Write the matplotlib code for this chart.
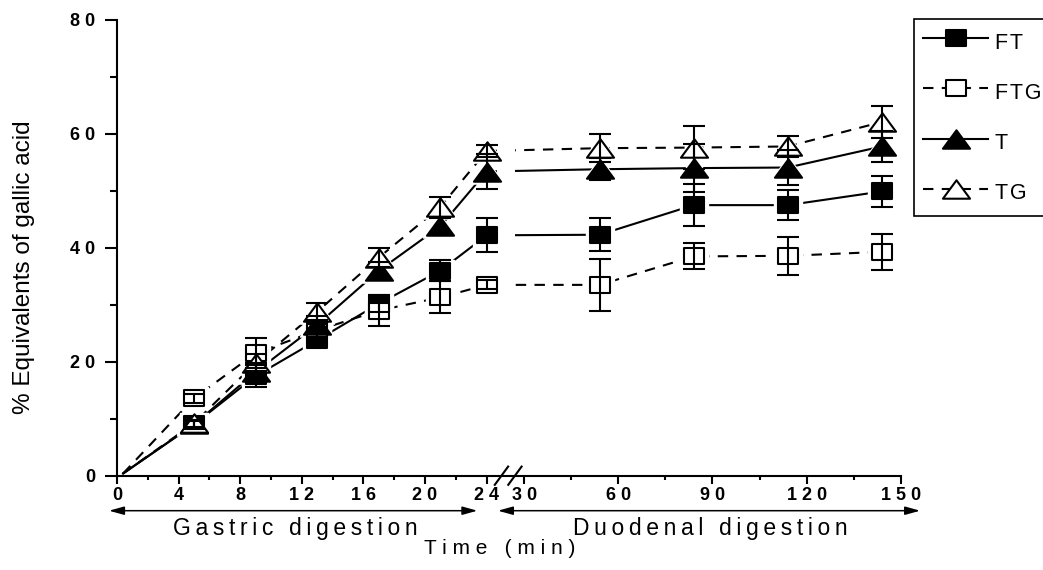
import numpy as np
import matplotlib
matplotlib.use('Agg')
import matplotlib.pyplot as plt
from matplotlib.path import Path
from matplotlib.lines import Line2D

plt.rcParams['font.family'] = ['Liberation Sans', 'DejaVu Sans']

# sampling times (min): gastric phase up to 24, duodenal phase afterwards
time_min = [0.4, 5, 9, 13, 17, 21, 24, 54, 84, 114, 144]

ft = [0.4, 9.0, 17.5, 23.8, 30.2, 36.0, 42.2, 42.3, 47.5, 47.5, 49.9]
ft_err = [0, 0.8, 2.0, 1.0, 1.5, 1.8, 3.0, 2.9, 3.7, 2.6, 2.7]
ftg = [0.4, 13.6, 21.5, 25.5, 29.0, 31.3, 33.5, 33.5, 38.5, 38.6, 39.3]
ftg_err = [0, 0.8, 2.6, 1.2, 2.7, 2.8, 0.8, 4.5, 2.3, 3.3, 3.2]
t_vals = [0.4, 9.0, 18.2, 26.5, 36.0, 43.8, 53.4, 53.8, 54.0, 54.1, 57.8]
t_err = [0, 0.6, 1.5, 1.5, 1.5, 1.5, 3.0, 1.9, 4.2, 3.0, 2.8]
tg = [0.4, 9.2, 19.8, 28.8, 38.3, 47.2, 57.0, 57.5, 57.6, 57.8, 62.1]
tg_err = [0, 0.6, 1.5, 1.5, 1.6, 1.8, 1.0, 2.5, 3.8, 1.9, 2.8]

labels = ['FT', 'FTG', 'T', 'TG']

x_major = [0, 4, 8, 12, 16, 20, 24, 30, 60, 90, 120, 150]
x_minor = [2, 6, 10, 14, 18, 22, 45, 75, 105, 135]
y_major = [0, 20, 40, 60, 80]
y_minor = [10, 30, 50, 70]

THIN = '\u2009'
HAIR = '\u200a'

# broken time axis: 24-30 squeezed into a short gap, duodenal part compressed
GAP = 2.44
SHRINK = 0.2037


def forward(t):
    t = np.asarray(t, dtype=float)
    return np.where(t <= 24, t,
                    np.where(t <= 30, 24 + (t - 24) * GAP / 6,
                             24 + GAP + (t - 30) * SHRINK))


def inverse(u):
    u = np.asarray(u, dtype=float)
    return np.where(u <= 24, u,
                    np.where(u <= 24 + GAP, 24 + (u - 24) * 6 / GAP,
                             30 + (u - 24 - GAP) / SHRINK))


def spaced(text, sep=THIN):
    return sep.join(text)


square = Path([(-0.5, -0.42), (0.5, -0.42), (0.5, 0.42), (-0.5, 0.42), (-0.5, -0.42)],
              [Path.MOVETO, Path.LINETO, Path.LINETO, Path.LINETO, Path.CLOSEPOLY])
triangle = Path([(0, 0.68), (-1, -0.68), (1, -0.68), (0, 0.68)],
                [Path.MOVETO, Path.LINETO, Path.LINETO, Path.CLOSEPOLY])

series = [
    (ft, ft_err, square, 14.5, True, False),
    (ftg, ftg_err, square, 14.5, False, True),
    (t_vals, t_err, triangle, 19.5, True, False),
    (tg, tg_err, triangle, 19.5, False, True),
]

fig = plt.figure(figsize=(10.43, 5.70), dpi=100)
ax = fig.add_axes([117 / 1043, 94.3 / 570, 783.7 / 1043, 455.7 / 570])
ax.set_xscale('function', functions=(forward, inverse))
ax.set_xlim(0, 150)
ax.set_ylim(0, 80)

handles = []
for vals, errs, mk, ms, filled, dashed in series:
    ls = (0, (5, 4)) if dashed else '-'
    face = 'black' if filled else 'white'
    ax.plot(time_min, vals, color='black', lw=1.5, ls=ls, zorder=2)
    ax.plot(time_min[1:], vals[1:], ls='none', marker=mk, ms=ms + 5,
            mfc='white', mec='white', zorder=3)
    ax.plot(time_min[1:], vals[1:], ls='none', marker=mk, ms=ms,
            mfc=face, mec='black', mew=1.5, zorder=4)
    ax.errorbar(time_min[1:], vals[1:], yerr=errs[1:], fmt='none', ecolor='black',
                elinewidth=1.5, capsize=8, capthick=1.5, zorder=5)
    handles.append(Line2D([], [], color='black', lw=1.5, ls=ls, marker=mk, ms=ms,
                          mfc=face, mec='black', mew=1.5))

# lines are interrupted inside the axis break
ax.axvspan(25.6, 28.5, ymin=0.03, ymax=1, color='white', lw=0, zorder=3.5)

for side in ['top', 'right']:
    ax.spines[side].set_visible(False)
for side in ['left', 'bottom']:
    ax.spines[side].set_linewidth(1.5)

ax.set_xticks(x_major)
ax.set_xticks(x_minor, minor=True)
ax.set_xticklabels([spaced(str(v), ' ') for v in x_major], fontweight='bold')
ax.set_yticks(y_major)
ax.set_yticks(y_minor, minor=True)
ax.set_yticklabels([spaced(str(v), ' ') for v in y_major], fontweight='bold')
ax.tick_params(axis='x', which='major', direction='out', length=5.5, width=1.5,
               pad=2.5, labelsize=13)
ax.tick_params(axis='x', which='minor', direction='out', length=3, width=1.5)
ax.tick_params(axis='y', which='major', direction='out', length=8.9, width=1.5,
               pad=7, labelsize=13)
ax.tick_params(axis='y', which='minor', direction='out', length=5.3, width=1.5)

# axis break marks
for t0 in [25.3, 27.45]:
    ax.plot([t0, t0 + 2.13], [-0.02, 0.02], color='black', lw=1.5,
            transform=ax.get_xaxis_transform(), clip_on=False, zorder=6)

ax.set_ylabel('% Equivalents of gallic acid', fontsize=17.5)
ax.yaxis.set_label_coords(-0.105, 0.458)
ax.set_xlabel(spaced('Time (min)', ' '), fontsize=15)
ax.xaxis.set_label_coords(0.4887, -0.139)

# phase arrows below the time axis
arrow = dict(arrowstyle='<|-|>,head_length=0.9,head_width=0.25', color='black',
             lw=1.1, shrinkA=0, shrinkB=0)
ax.annotate('', xy=(23.4, -0.0768), xytext=(-0.52, -0.0768),
            xycoords=('data', 'axes fraction'), textcoords=('data', 'axes fraction'),
            arrowprops=arrow, annotation_clip=False)
ax.annotate('', xy=(156.2, -0.0768), xytext=(25.8, -0.0768),
            xycoords=('data', 'axes fraction'), textcoords=('data', 'axes fraction'),
            arrowprops=arrow, annotation_clip=False)
ax.text(11.6, -0.115, spaced('Gastric digestion'), fontsize=16.5, ha='center', va='center',
        transform=ax.get_xaxis_transform())
ax.text(89.2, -0.115, spaced('Duodenal digestion'), fontsize=16.5, ha='center', va='center',
        transform=ax.get_xaxis_transform())

leg = ax.legend(handles, [spaced(s, HAIR) for s in labels], loc='upper left',
                bbox_to_anchor=(914.1 / 1043, 1 - 19 / 570), bbox_transform=fig.transFigure,
                borderaxespad=0, fancybox=False, edgecolor='black', framealpha=1,
                fontsize=15.5, handlelength=3.05, handleheight=1.71, handletextpad=0.3,
                borderpad=0.4, labelspacing=0.97, numpoints=1)
leg.get_frame().set_linewidth(1.2)

fig.savefig('out.png', dpi=100)
